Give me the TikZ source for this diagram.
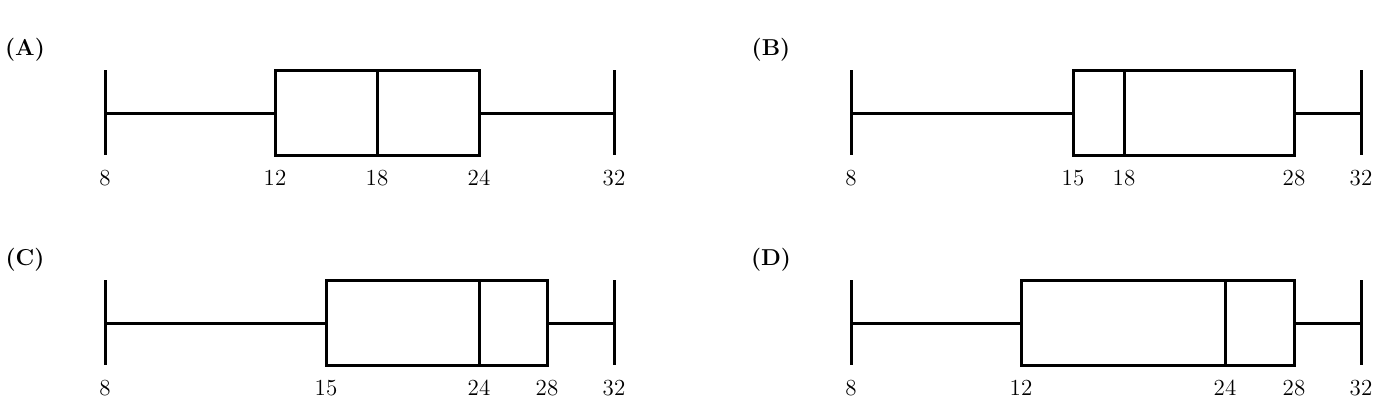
\documentclass[tikz,border=0pt]{standalone}
\begin{document}
\begin{tikzpicture}[x=0.5pt,y=-0.5pt,
 bx/.style={line width=1.5pt},
 lab/.style={font=\fontsize{11.5}{14}\selectfont,inner sep=0pt},
 ttl/.style={font=\fontsize{11.5}{14}\selectfont\bfseries,inner sep=0pt}]
\useasboundingbox (0,0) rectangle (1389,414);
% args: offset y, x8, q1, med, q3, x32, labels
\newcommand{\myplot}[9]{%
 \begin{scope}[yshift=#1*-0.5pt]
 \coordinate (a) at (#2,113); \coordinate (b) at (#6,113);
 \draw[bx] (#2,70) -- (#2,155);
 \draw[bx] (#6,70) -- (#6,155);
 \draw[bx] (a) -- (#3,113);
 \draw[bx] (#5,113) -- (b);
 \draw[bx] (#3,70) rectangle (#5,155);
 \draw[bx] (#4,70) -- (#4,155);
 \node[lab] at (#2,178) {8};
 \node[lab] at (#3,178) {#7};
 \node[lab] at (#4,178) {#8};
 \node[lab] at (#5,178) {#9};
 \node[lab] at (#6,178) {32};
 \end{scope}}
\node[ttl] (tA) at (25,50) {(A)};
\node[ttl] (tB) at (771,50) {(B)};
\node[ttl] (tC) at (25,260) {(C)};
\node[ttl] (tD) at (771,260) {(D)};
\myplot{0}{105}{275}{377}{479}{614}{12}{18}{24}
\myplot{0}{851}{1073}{1124}{1294}{1361}{15}{18}{28}
\myplot{210}{105}{326}{479}{547}{614}{15}{24}{28}
\myplot{210}{851}{1021}{1225}{1294}{1361}{12}{24}{28}
\end{tikzpicture}
\end{document}
